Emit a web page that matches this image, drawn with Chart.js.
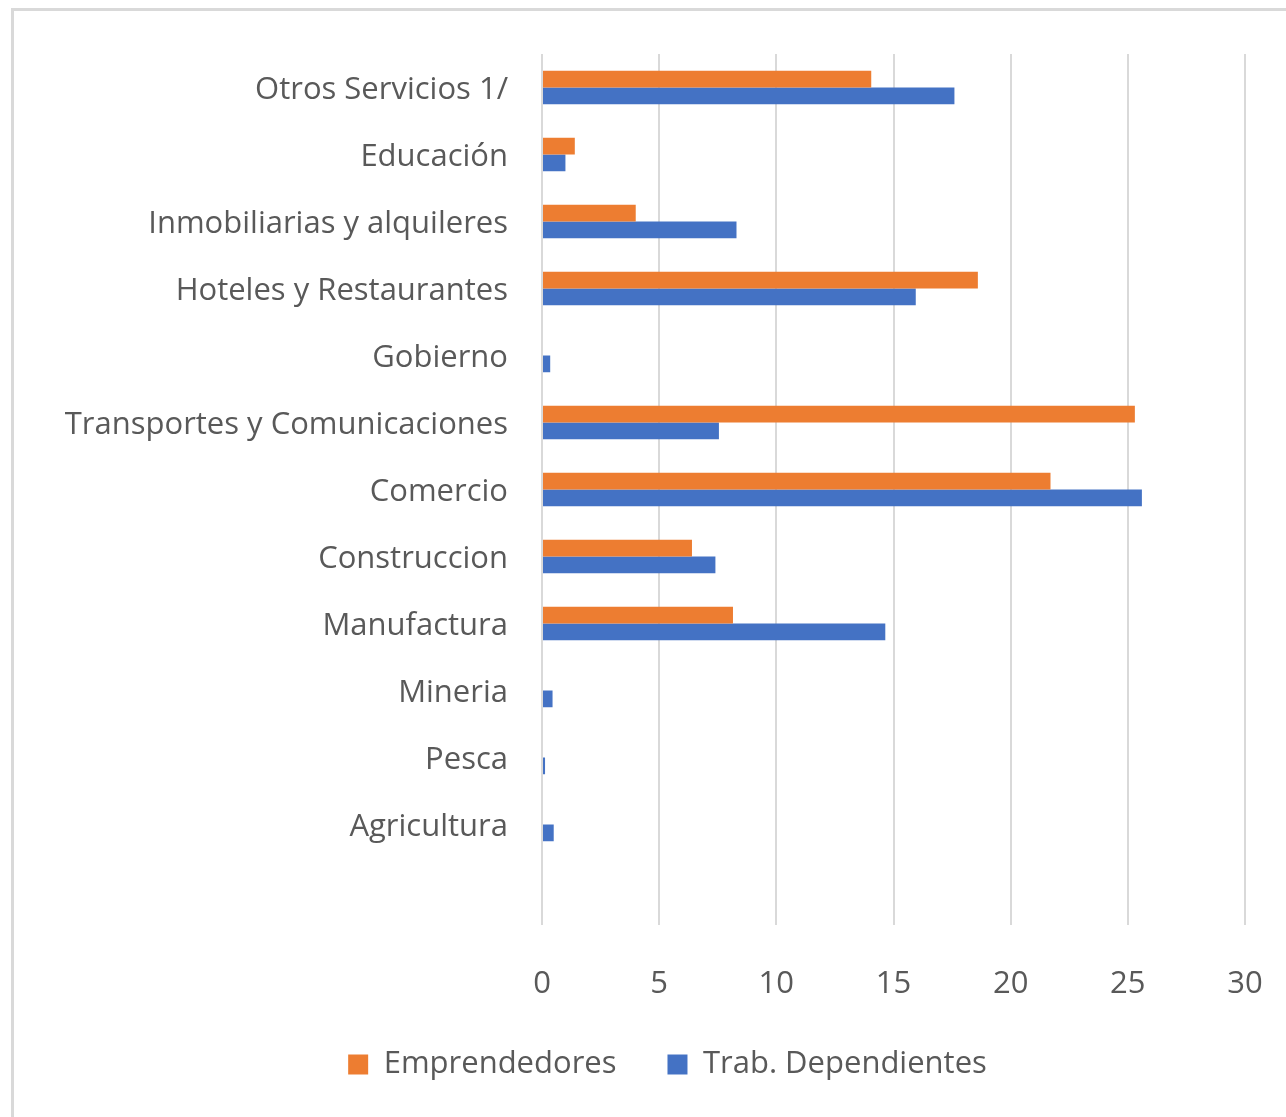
<!DOCTYPE html>
<html lang="es">
  <head>
    <meta charset="UTF-8" />
    <title>Emprendedores vs Trab. Dependientes</title>
    <script src="https://cdn.jsdelivr.net/npm/chart.js"></script>
    <style>
      html,
      body {
        margin: 0;
        padding: 0;
        background: #ffffff;
        overflow: hidden;
      }
      .frame {
        position: absolute;
        left: 11px;
        top: 8px;
        width: 1400px;
        height: 1300px;
        border: 3px solid #d9d9d9;
      }
      #myChart {
        position: absolute;
        left: 0;
        top: 0;
      }
    </style>
  </head>
  <body>
    <div class="frame"></div>
    <canvas id="myChart" width="1286" height="1117"></canvas>

    <script>
      // categorias de arriba hacia abajo (la ultima fila esta vacia en el original)
      const categories = [
        "Otros Servicios 1/",
        "Educación",
        "Inmobiliarias y alquileres",
        "Hoteles y Restaurantes",
        "Gobierno",
        "Transportes y Comunicaciones",
        "Comercio",
        "Construccion",
        "Manufactura",
        "Mineria",
        "Pesca",
        "Agricultura",
        "",
      ];
      const emprendedores = [14.05, 1.4, 4.0, 18.6, 0, 25.3, 21.7, 6.4, 8.15, 0, 0, 0, null];
      const dependientes = [17.6, 1.0, 8.3, 15.95, 0.35, 7.55, 25.6, 7.4, 14.65, 0.45, 0.13, 0.5, null];
      const xTicks = [0, 5, 10, 15, 20, 25, 30];

      const fontFamily = "'Open Sans', 'Noto Sans', sans-serif";
      const textColor = "#595959";
      const gridColor = "#d9d9d9";

      // la leyenda del original esta centrada un poco a la derecha
      const legendShift = {
        id: "legendShift",
        afterLayout(chart) {
          chart.legend.left += 45;
          chart.legend.right += 45;
        },
      };

      const ctx = document.getElementById("myChart").getContext("2d");

      new Chart(ctx, {
        type: "bar",
        data: {
          labels: categories,
          datasets: [
            {
              label: "Emprendedores",
              data: emprendedores,
              backgroundColor: "#ED7D31",
              categoryPercentage: 0.5,
              barPercentage: 1.0,
            },
            {
              label: "Trab. Dependientes",
              data: dependientes,
              backgroundColor: "#4472C4",
              categoryPercentage: 0.5,
              barPercentage: 1.0,
            },
          ],
        },
        options: {
          indexAxis: "y",
          responsive: false,
          animation: false,
          layout: {
            padding: { top: 54, right: 41, left: 0, bottom: 27 },
          },
          scales: {
            x: {
              min: xTicks[0],
              max: xTicks[xTicks.length - 1],
              afterBuildTicks: (axis) => {
                axis.ticks = xTicks.map((v) => ({ value: v }));
              },
              afterFit: (axis) => {
                axis.height = 73;
                axis.paddingLeft = 0;
                axis.paddingRight = 0;
              },
              grid: {
                color: gridColor,
                lineWidth: 2,
                drawTicks: false,
              },
              border: { display: false },
              ticks: {
                color: textColor,
                padding: 41,
                font: { family: fontFamily, size: 31 },
              },
            },
            y: {
              afterFit: (axis) => {
                axis.width = 542;
              },
              grid: { display: false, drawTicks: false },
              border: { display: false },
              ticks: {
                color: textColor,
                padding: 34,
                labelOffset: 3,
                font: { family: fontFamily, size: 31 },
              },
            },
          },
          plugins: {
            legend: {
              position: "bottom",
              labels: {
                color: textColor,
                boxWidth: 20,
                boxHeight: 20,
                padding: 51,
                font: { family: fontFamily, size: 31 },
              },
            },
            tooltip: { enabled: false },
          },
        },
        plugins: [legendShift],
      });
    </script>
  </body>
</html>
